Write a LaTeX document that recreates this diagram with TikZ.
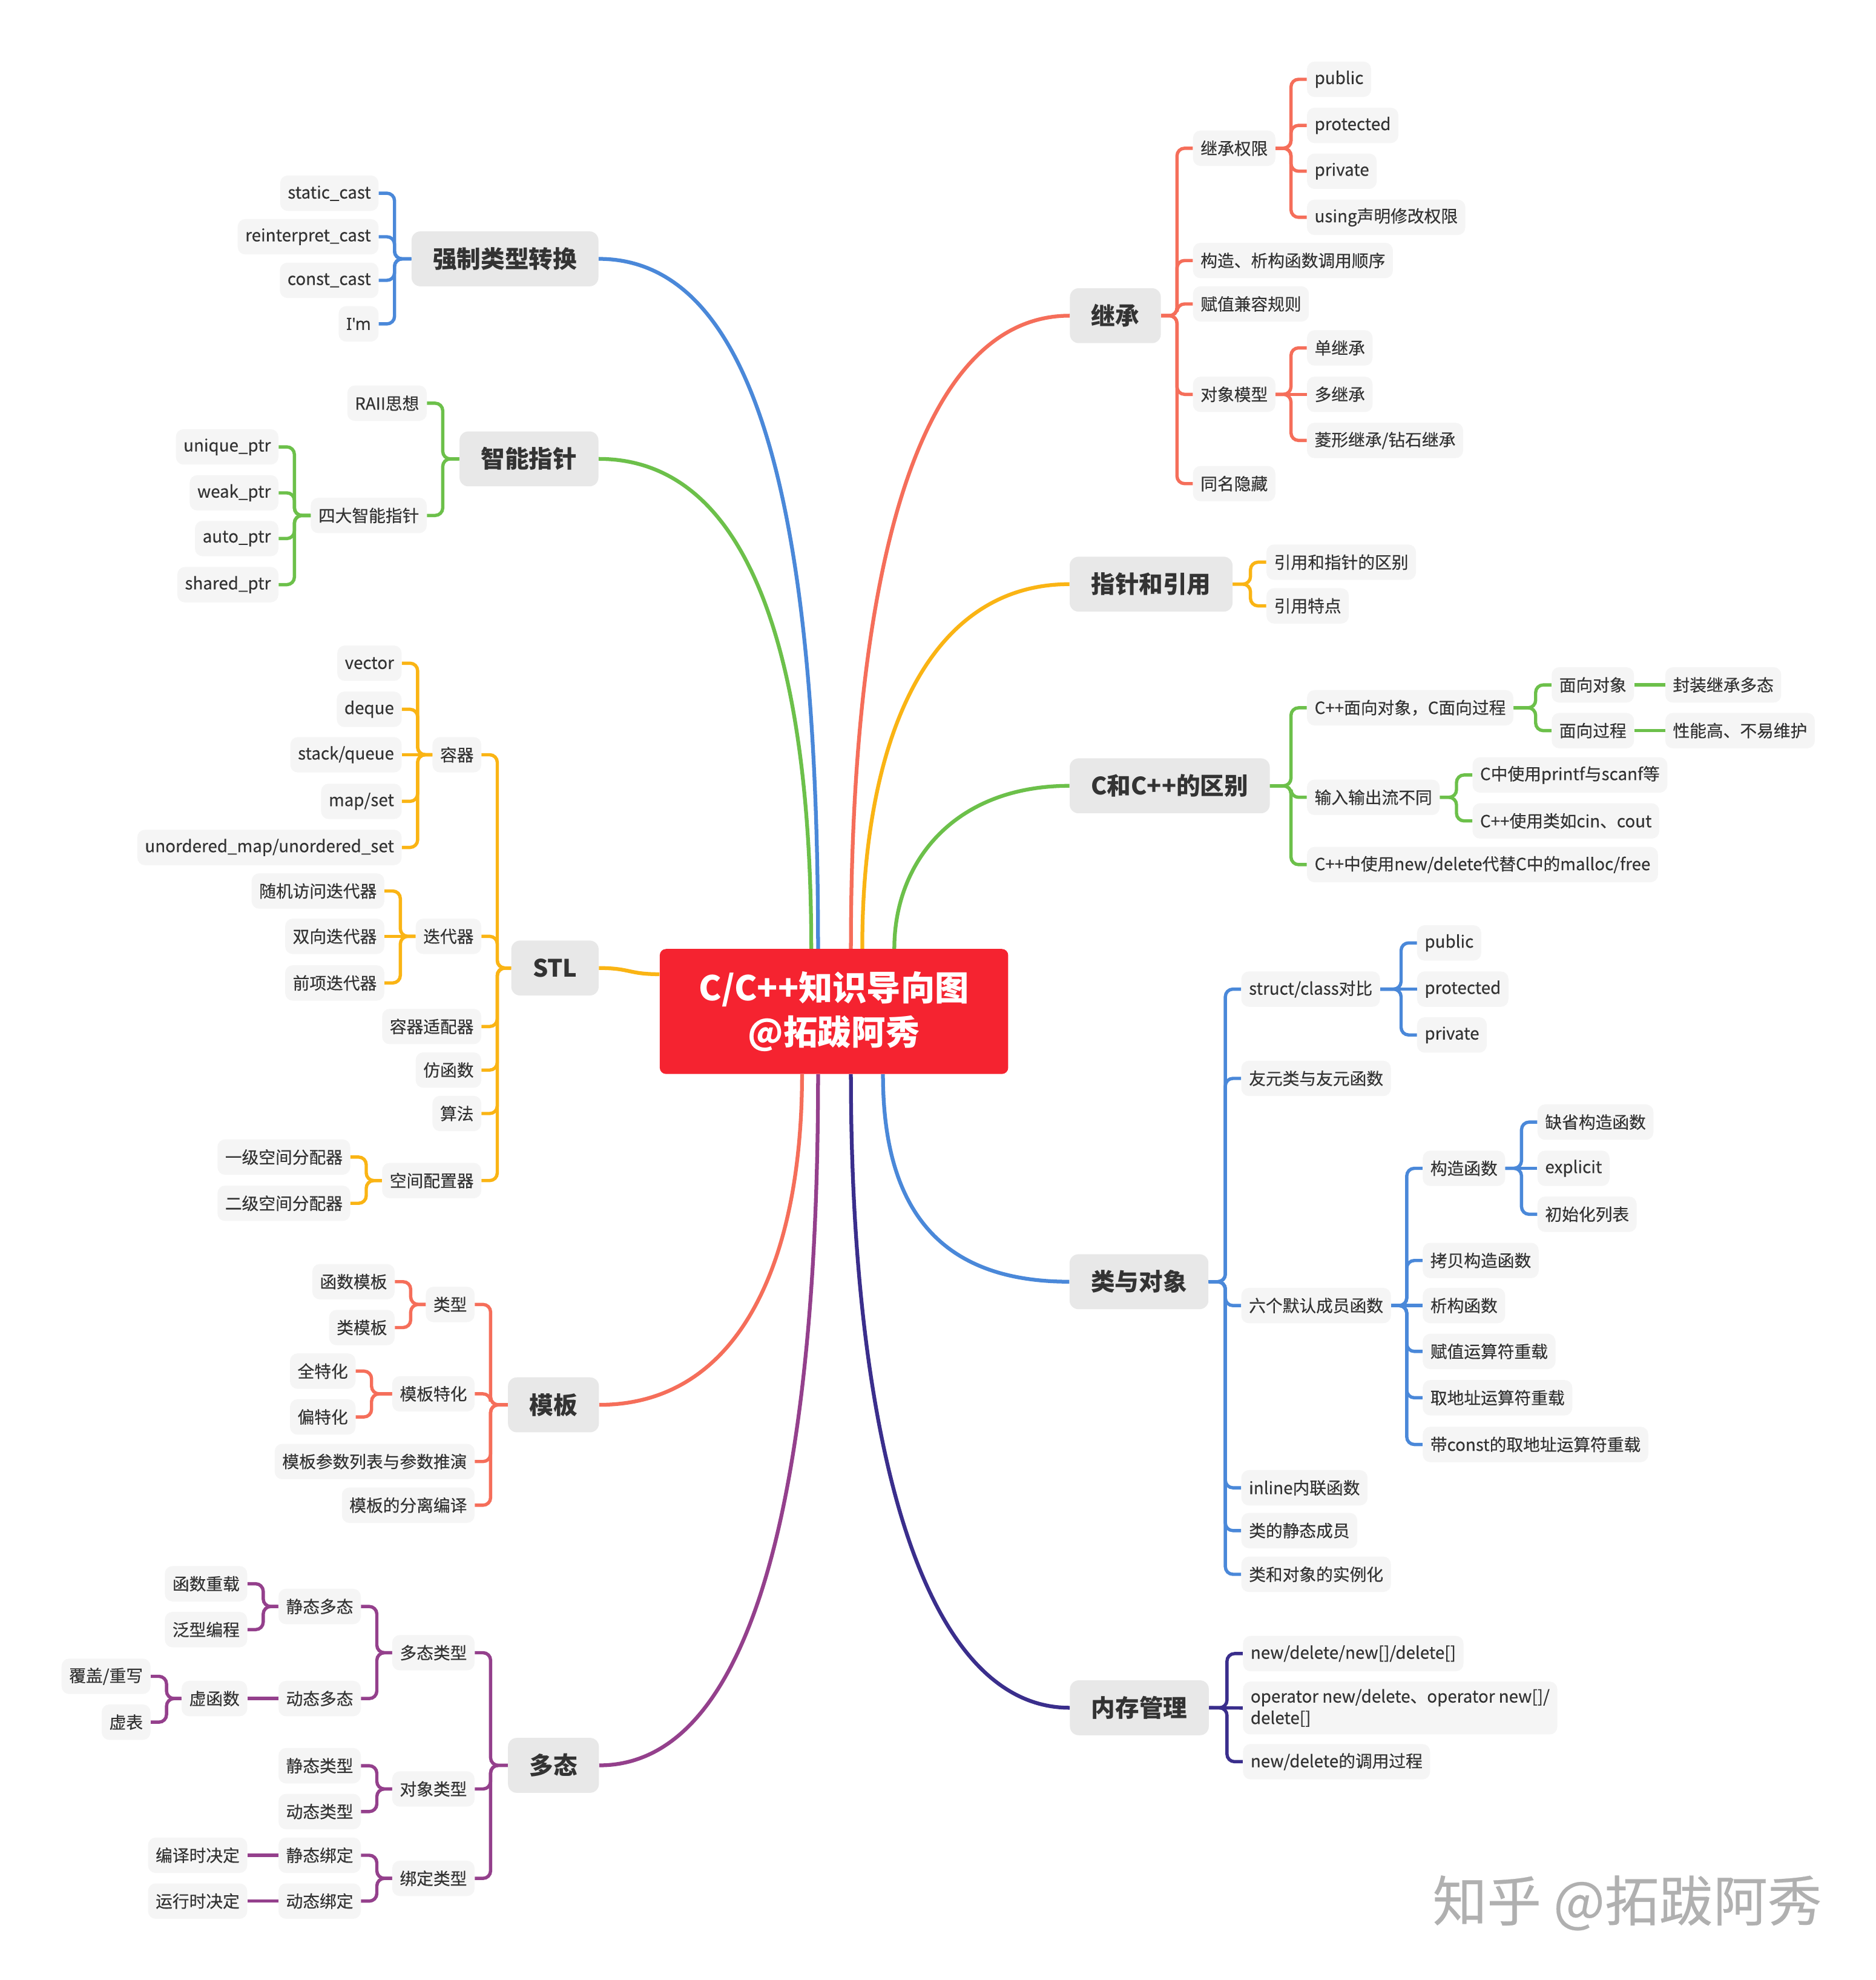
\documentclass[tikz,border=0pt]{standalone}
\usepackage{fontspec}
\setmainfont{Noto Sans CJK SC}
\newfontfamily\medfam{Noto Sans CJK SC}[FakeBold=0.3]
\newfontfamily\latinfam{Noto Sans}[FakeBold=0.3]
\usepackage{tikz}

\definecolor{rootred}{HTML}{F52330}
\definecolor{topicgray}{HTML}{E8E8E8}
\definecolor{leafgray}{HTML}{F5F5F5}
\definecolor{textgray}{HTML}{333333}
\definecolor{mmblue}{HTML}{4A88D9}
\definecolor{mmgreen}{HTML}{6CC04A}
\definecolor{mmyellow}{HTML}{FAB414}
\definecolor{mmsalmon}{HTML}{F56E5A}
\definecolor{mmpurple}{HTML}{94408C}
\definecolor{mmindigo}{HTML}{3A2E8C}
\definecolor{wmgray}{HTML}{B0B0B0}

\newcommand{\leaffont}{\medfam\fontsize{13.3}{17}\selectfont}
\newcommand{\topicfont}{\fontsize{19}{23}\selectfont\bfseries}
\newcommand{\rootfont}{\fontsize{27}{35}\selectfont\bfseries}

\tikzset{
  root/.style={fill=rootred, rounded corners=5pt, text=white, font=\rootfont,
               align=center, minimum width=276pt, minimum height=99pt},
  topic/.style={fill=topicgray, rounded corners=7pt, text=textgray, font=\topicfont,
                minimum height=43.5pt, inner xsep=17pt},
  leaf/.style={fill=leafgray, rounded corners=6pt, text=textgray, font=\leaffont,
               minimum height=28pt, inner xsep=6pt},
  br/.style={line width=2.6pt, rounded corners=6pt},
  link/.style={line width=3pt},
  wmark/.style={text=wmgray, font=\medfam\fontsize{43}{46}\selectfont},
}

\begin{document}
\begin{tikzpicture}[x=1pt,y=-1pt]
\useasboundingbox (0,0) rectangle (1486,1568);
\fill[white] (0,0) rectangle (1486,1568);

% centre
\node[root] (root) at (660.6,801) {C/C++知识导向图\\@拓跋阿秀};

% main topics, left
\node[topic,anchor=east] (cast) at (474.2,205) {强制类型转换};
\node[topic,anchor=east] (smart) at (474.2,363.4) {智能指针};
\node[topic,anchor=east] (stl) at (474.4,766.6) {STL};
\node[topic,anchor=east] (tmpl) at (474.6,1112.5) {模板};
\node[topic,anchor=east] (poly) at (474.6,1398) {多态};
% main topics, right
\node[topic,anchor=west] (inh) at (847.3,250) {继承};
\node[topic,anchor=west] (ptr) at (847.1,462.6) {指针和引用};
\node[topic,anchor=west] (cdiff) at (847.1,622.3) {C和C++的区别};
\node[topic,anchor=west] (cls) at (847,1015) {类与对象};
\node[topic,anchor=west] (mem) at (847.3,1352.4) {内存管理};

% links from the centre
\draw[link,mmblue] (cast.east) .. controls +(130,0) and +(0,-330) .. ([xshift=-12.6pt]root.north);
\draw[link,mmgreen] (smart.east) .. controls +(120,0) and +(0,-230) .. ([xshift=-18pt]root.north);
\draw[link,mmyellow] (stl.east) .. controls +(25,0) and +(-25,0) .. ([yshift=29.5pt]root.west);
\draw[link,mmsalmon] (tmpl.east) .. controls +(110,0) and +(0,150) .. ([xshift=-25.3pt]root.south);
\draw[link,mmpurple] (poly.east) .. controls +(130,0) and +(0,300) .. ([xshift=-12.6pt]root.south);
\draw[link,mmsalmon] (inh.west) .. controls +(-120,0) and +(0,-300) .. ([xshift=13.4pt]root.north);
\draw[link,mmyellow] (ptr.west) .. controls +(-110,0) and +(0,-170) .. ([xshift=22.4pt]root.north);
\draw[link,mmgreen] (cdiff.west) .. controls +(-90,0) and +(0,-70) .. ([xshift=47.8pt]root.north);
\draw[link,mmblue] (cls.west) .. controls +(-100,0) and +(0,110) .. ([xshift=38.8pt]root.south);
\draw[link,mmindigo] (mem.west) .. controls +(-120,0) and +(0,280) .. ([xshift=13.4pt]root.south);

% cast
\node[leaf,anchor=east] (scast) at (300,153) {static\_cast};
\node[leaf,anchor=east] (rcast) at (300,187.5) {reinterpret\_cast};
\node[leaf,anchor=east] (ccast) at (300,222) {const\_cast};
\node[leaf,anchor=east] (im) at (300,256.5) {\latinfam I'm};
\foreach \c in {scast,rcast,ccast,im}
  \draw[br,mmblue] (\c.east) -- ++(12.5,0) |- (cast.west);

% smart pointers
\node[leaf,anchor=east] (raii) at (338.2,319.3) {RAII思想};
\node[leaf,anchor=east] (four) at (338.2,408.2) {四大智能指针};
\node[leaf,anchor=east] (uniq) at (220.7,353.9) {unique\_ptr};
\node[leaf,anchor=east] (weak) at (220.7,390.3) {weak\_ptr};
\node[leaf,anchor=east] (autop) at (220.7,426.5) {auto\_ptr};
\node[leaf,anchor=east] (shrd) at (220.7,463) {shared\_ptr};
\foreach \c in {raii,four}
  \draw[br,mmgreen] (\c.east) -- ++(12.5,0) |- (smart.west);
\foreach \c in {uniq,weak,autop,shrd}
  \draw[br,mmgreen] (\c.east) -- ++(12.5,0) |- (four.west);

% STL
\node[leaf,anchor=east] (con) at (381.4,597.7) {容器};
\node[leaf,anchor=east] (iter) at (381.4,741.5) {迭代器};
\node[leaf,anchor=east] (adapt) at (381.4,812.9) {容器适配器};
\node[leaf,anchor=east] (functor) at (381.4,847.4) {仿函数};
\node[leaf,anchor=east] (algo) at (381.4,881.8) {算法};
\node[leaf,anchor=east] (alloc) at (381.4,934.9) {空间配置器};
\node[leaf,anchor=east] (vec) at (318.3,525.2) {vector};
\node[leaf,anchor=east] (deq) at (318.3,561.7) {deque};
\node[leaf,anchor=east] (stk) at (318.3,597.7) {stack/queue};
\node[leaf,anchor=east] (mset) at (318.3,634.6) {map/set};
\node[leaf,anchor=east] (umap) at (318.3,671.1) {unordered\_map/unordered\_set};
\node[leaf,anchor=east] (rnd) at (304.6,705.6) {随机访问迭代器};
\node[leaf,anchor=east] (bid) at (304.6,741.5) {双向迭代器};
\node[leaf,anchor=east] (fwd) at (304.6,778.4) {前项迭代器};
\node[leaf,anchor=east] (alo1) at (277.6,916.3) {一级空间分配器};
\node[leaf,anchor=east] (alo2) at (277.6,952.9) {二级空间分配器};
\foreach \c in {con,iter,adapt,functor,algo,alloc}
  \draw[br,mmyellow] (\c.east) -- ++(12.5,0) |- (stl.west);
\foreach \c in {vec,deq,mset,umap}
  \draw[br,mmyellow] (\c.east) -- ++(12.5,0) |- (con.west);
\draw[br,mmyellow] (stk.east) -- (con.west);
\foreach \c in {rnd,fwd}
  \draw[br,mmyellow] (\c.east) -- ++(12.5,0) |- (iter.west);
\draw[br,mmyellow] (bid.east) -- (iter.west);
\foreach \c in {alo1,alo2}
  \draw[br,mmyellow] (\c.east) -- ++(12.5,0) |- (alloc.west);

% templates
\node[leaf,anchor=east] (ttype) at (376.1,1033) {类型};
\node[leaf,anchor=east] (tspec) at (376.1,1103.8) {模板特化};
\node[leaf,anchor=east] (tparam) at (376.1,1157.4) {模板参数列表与参数推演};
\node[leaf,anchor=east] (tsep) at (376.1,1192) {模板的分离编译};
\node[leaf,anchor=east] (ftpl) at (312.8,1015) {函数模板};
\node[leaf,anchor=east] (ctpl) at (312.8,1051.3) {类模板};
\node[leaf,anchor=east] (fspec) at (281.8,1085.8) {全特化};
\node[leaf,anchor=east] (pspec) at (281.8,1122.1) {偏特化};
\foreach \c in {ttype,tspec,tparam,tsep}
  \draw[br,mmsalmon] (\c.east) -- ++(12.5,0) |- (tmpl.west);
\foreach \c in {ftpl,ctpl}
  \draw[br,mmsalmon] (\c.east) -- ++(12.5,0) |- (ttype.west);
\foreach \c in {fspec,pspec}
  \draw[br,mmsalmon] (\c.east) -- ++(12.5,0) |- (tspec.west);

% polymorphism
\node[leaf,anchor=east] (ptype) at (376.1,1308.8) {多态类型};
\node[leaf,anchor=east] (otype) at (376.1,1416.7) {对象类型};
\node[leaf,anchor=east] (btype) at (376.1,1487.5) {绑定类型};
\node[leaf,anchor=east] (spoly) at (286,1272.2) {静态多态};
\node[leaf,anchor=east] (dpoly) at (286,1345.1) {动态多态};
\node[leaf,anchor=east] (ovl) at (196,1254.2) {函数重载};
\node[leaf,anchor=east] (gen) at (196,1290.5) {泛型编程};
\node[leaf,anchor=east] (virt) at (196,1345.1) {虚函数};
\node[leaf,anchor=east] (ovr) at (119.4,1327.5) {覆盖/重写};
\node[leaf,anchor=east] (vtab) at (119.4,1363.8) {虚表};
\node[leaf,anchor=east] (stype) at (286,1398.3) {静态类型};
\node[leaf,anchor=east] (dtype) at (286,1434.6) {动态类型};
\node[leaf,anchor=east] (sbind) at (286,1469.2) {静态绑定};
\node[leaf,anchor=east] (dbind) at (286,1505.5) {动态绑定};
\node[leaf,anchor=east] (ctime) at (196,1469.2) {编译时决定};
\node[leaf,anchor=east] (rtime) at (196,1505.5) {运行时决定};
\foreach \c in {ptype,otype,btype}
  \draw[br,mmpurple] (\c.east) -- ++(12.5,0) |- (poly.west);
\foreach \c in {spoly,dpoly}
  \draw[br,mmpurple] (\c.east) -- ++(12.5,0) |- (ptype.west);
\foreach \c in {ovl,gen}
  \draw[br,mmpurple] (\c.east) -- ++(12.5,0) |- (spoly.west);
\foreach \c in {ovr,vtab}
  \draw[br,mmpurple] (\c.east) -- ++(12.5,0) |- (virt.west);
\foreach \c in {stype,dtype}
  \draw[br,mmpurple] (\c.east) -- ++(12.5,0) |- (otype.west);
\foreach \c in {sbind,dbind}
  \draw[br,mmpurple] (\c.east) -- ++(12.5,0) |- (btype.west);
\draw[br,mmpurple] (virt.east) -- (dpoly.west);
\draw[br,mmpurple] (ctime.east) -- (sbind.west);
\draw[br,mmpurple] (rtime.east) -- (dbind.west);

% inheritance
\node[leaf,anchor=west] (perm) at (944.8,117.4) {继承权限};
\node[leaf,anchor=west] (order) at (944.8,206.3) {构造、析构函数调用顺序};
\node[leaf,anchor=west] (asgn) at (944.8,240.7) {赋值兼容规则};
\node[leaf,anchor=west] (omodel) at (944.8,312.3) {对象模型};
\node[leaf,anchor=west] (hide) at (944.8,383) {同名隐藏};
\node[leaf,anchor=west] (ipub) at (1035.1,62.8) {public};
\node[leaf,anchor=west] (iprot) at (1035.1,99.3) {protected};
\node[leaf,anchor=west] (ipriv) at (1035.1,135.6) {private};
\node[leaf,anchor=west] (iusing) at (1035.1,172.1) {using声明修改权限};
\node[leaf,anchor=west] (single) at (1035.1,275.5) {单继承};
\node[leaf,anchor=west] (multi) at (1035.1,312.3) {多继承};
\node[leaf,anchor=west] (diamond) at (1035.1,348.8) {菱形继承/钻石继承};
\foreach \c in {perm,order,asgn,omodel,hide}
  \draw[br,mmsalmon] (\c.west) -- ++(-12.5,0) |- (inh.east);
\foreach \c in {ipub,iprot,ipriv,iusing}
  \draw[br,mmsalmon] (\c.west) -- ++(-12.5,0) |- (perm.east);
\foreach \c in {single,diamond}
  \draw[br,mmsalmon] (\c.west) -- ++(-12.5,0) |- (omodel.east);
\draw[br,mmsalmon] (multi.west) -- (omodel.east);

% pointers and references
\node[leaf,anchor=west] (rdiff) at (1003,445.2) {引用和指针的区别};
\node[leaf,anchor=west] (rfeat) at (1003,479.8) {引用特点};
\foreach \c in {rdiff,rfeat}
  \draw[br,mmyellow] (\c.west) -- ++(-12.5,0) |- (ptr.east);

% C vs C++
\node[leaf,anchor=west] (oop) at (1035.1,560.5) {C++面向对象，C面向过程};
\node[leaf,anchor=west] (iostr) at (1035.1,631.4) {输入输出流不同};
\node[leaf,anchor=west] (nd) at (1035.1,684.7) {C++中使用new/delete代替C中的malloc/free};
\node[leaf,anchor=west] (oo) at (1228.9,542.4) {面向对象};
\node[leaf,anchor=west] (po) at (1228.9,578.6) {面向过程};
\node[leaf,anchor=west] (enc) at (1318.9,542.4) {封装继承多态};
\node[leaf,anchor=west] (perf) at (1318.9,578.6) {性能高、不易维护};
\node[leaf,anchor=west] (cio) at (1166.2,613.7) {C中使用printf与scanf等};
\node[leaf,anchor=west] (cppio) at (1166.2,650.1) {C++使用类如cin、cout};
\foreach \c in {oop,iostr,nd}
  \draw[br,mmgreen] (\c.west) -- ++(-12.5,0) |- (cdiff.east);
\foreach \c in {oo,po}
  \draw[br,mmgreen] (\c.west) -- ++(-12.5,0) |- (oop.east);
\foreach \c in {cio,cppio}
  \draw[br,mmgreen] (\c.west) -- ++(-12.5,0) |- (iostr.east);
\draw[br,mmgreen] (oo.east) -- (enc.west);
\draw[br,mmgreen] (po.east) -- (perf.west);

% classes and objects
\node[leaf,anchor=west] (sc) at (983.1,783.3) {struct/class对比};
\node[leaf,anchor=west] (frd) at (983.1,854) {友元类与友元函数};
\node[leaf,anchor=west] (six) at (983.1,1033.9) {六个默认成员函数};
\node[leaf,anchor=west] (inl) at (983.1,1178.2) {inline内联函数};
\node[leaf,anchor=west] (smem) at (983.1,1212.1) {类的静态成员};
\node[leaf,anchor=west] (inst) at (983.1,1246.7) {类和对象的实例化};
\node[leaf,anchor=west] (cpub) at (1122.3,746.7) {public};
\node[leaf,anchor=west] (cprot) at (1122.3,783.3) {protected};
\node[leaf,anchor=west] (cpriv) at (1122.3,819.6) {private};
\node[leaf,anchor=west] (ctor) at (1126.8,925.2) {构造函数};
\node[leaf,anchor=west] (cpy) at (1126.8,998.2) {拷贝构造函数};
\node[leaf,anchor=west] (dtor) at (1126.8,1033.9) {析构函数};
\node[leaf,anchor=west] (asop) at (1126.8,1070.2) {赋值运算符重载};
\node[leaf,anchor=west] (adop) at (1126.8,1106.9) {取地址运算符重载};
\node[leaf,anchor=west] (cadop) at (1126.8,1143.9) {带const的取地址运算符重载};
\node[leaf,anchor=west] (dctor) at (1217.7,888.6) {缺省构造函数};
\node[leaf,anchor=west] (expl) at (1217.7,925.2) {explicit};
\node[leaf,anchor=west] (ilist) at (1217.7,961.6) {初始化列表};
\foreach \c in {sc,frd,six,inl,smem,inst}
  \draw[br,mmblue] (\c.west) -- ++(-12.5,0) |- (cls.east);
\foreach \c in {cpub,cpriv}
  \draw[br,mmblue] (\c.west) -- ++(-12.5,0) |- (sc.east);
\draw[br,mmblue] (cprot.west) -- (sc.east);
\foreach \c in {ctor,cpy,asop,adop,cadop}
  \draw[br,mmblue] (\c.west) -- ++(-12.5,0) |- (six.east);
\draw[br,mmblue] (dtor.west) -- (six.east);
\foreach \c in {dctor,ilist}
  \draw[br,mmblue] (\c.west) -- ++(-12.5,0) |- (ctor.east);
\draw[br,mmblue] (expl.west) -- (ctor.east);

% memory
\node[leaf,anchor=west] (nd1) at (984.4,1309.5) {new/delete/new[]/delete[]};
\node[leaf,anchor=west,align=left,inner ysep=6pt] (nd2) at (984.4,1352.6) {operator new/delete、operator new[]/\\delete[]};
\node[leaf,anchor=west] (nd3) at (984.4,1395.1) {new/delete的调用过程};
\foreach \c in {nd1,nd3}
  \draw[br,mmindigo] (\c.west) -- ++(-12.5,0) |- (mem.east);
\draw[br,mmindigo] (nd2.west) -- (mem.east);

% watermark
\node[wmark] (wm) at (1289,1507) {知乎 @拓跋阿秀};
\end{tikzpicture}
\end{document}
